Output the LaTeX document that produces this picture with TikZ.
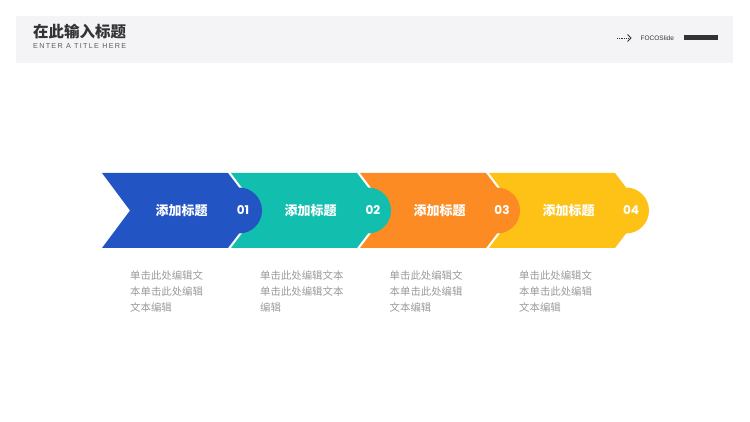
\documentclass[tikz,border=0pt]{standalone}
\usepackage{fontspec}
\setmainfont{Noto Sans CJK SC}
\newfontfamily\latinfont{Liberation Sans}[LetterSpace=18]
\newfontfamily\smallfont{Liberation Sans}
\newfontfamily\numfont{Poppins}
\usetikzlibrary{arrows.meta, positioning}

\definecolor{stepblue}{HTML}{2354C4}
\definecolor{stepteal}{HTML}{12BFAE}
\definecolor{steporange}{HTML}{FC8B23}
\definecolor{stepyellow}{HTML}{FDC215}
\definecolor{headbg}{HTML}{F4F4F6}
\definecolor{headtext}{HTML}{333333}
\definecolor{descgray}{HTML}{9A9A9A}

\begin{document}
\begin{tikzpicture}[
x=1pt, y=-1pt,
steptitle/.style={text=white, font=\bfseries\fontsize{13}{13}\selectfont},
stepnum/.style={text=white, font=\numfont\bfseries\fontsize{12}{12}\selectfont},
stepdesc/.style={anchor=north west, align=left, inner sep=0pt, text=descgray, font=\fontsize{10.4}{16}\selectfont}
]
\useasboundingbox (0,0) rectangle (750,422);

% header bar
\fill[headbg] (16,16) rectangle (733,63);
\node[anchor=west, inner sep=0pt, text=headtext, font=\bfseries\fontsize{15.5}{15.5}\selectfont] (title) at (33,32) {在此输入标题};
\node[anchor=west, inner sep=0pt, text=headtext!80, font=\latinfont\fontsize{7.2}{7.2}\selectfont] (subtitle) at (33,46.5) {ENTER A TITLE HERE};

\coordinate (dotstart) at (617,38);
\coordinate (dotend) at (628,38);
\draw[headtext, densely dotted, line width=0.8pt] (dotstart) -- (dotend);
\draw[headtext, line width=0.8pt] (627.5,34.5) -- (631,38) -- (627.5,41.5);
\node[anchor=west, inner sep=0pt, text=headtext, font=\smallfont\fontsize{6.5}{6.5}\selectfont] (brand) at (640.5,38) {FOCOSlide};
\fill[headtext] (684,35.5) rectangle (718,40.5);

% bands, drawn back to front
\fill[stepyellow] (489,173) -- (615,173) -- (626,187.5) arc[start angle=-90, end angle=90, radius=23] -- (615,248) -- (489,248) -- (517,210.5) -- cycle;
\fill[steporange] (360,173) -- (486,173) -- (497,187.5) arc[start angle=-90, end angle=90, radius=23] -- (486,248) -- (360,248) -- (388,210.5) -- cycle;
\fill[stepteal] (231,173) -- (357,173) -- (368,187.5) arc[start angle=-90, end angle=90, radius=23] -- (357,248) -- (231,248) -- (259,210.5) -- cycle;
\fill[stepblue] (102,173) -- (228,173) -- (239,187.5) arc[start angle=-90, end angle=90, radius=23] -- (228,248) -- (102,248) -- (130,210.5) -- cycle;

\node[steptitle] (title1) at (181.5,210.5) {添加标题};
\node[steptitle] (title2) at (310.5,210.5) {添加标题};
\node[steptitle] (title3) at (439.5,210.5) {添加标题};
\node[steptitle] (title4) at (568.5,210.5) {添加标题};

\node[stepnum] (num1) at (243,210.5) {01};
\node[stepnum] (num2) at (373,210.5) {02};
\node[stepnum] (num3) at (502,210.5) {03};
\node[stepnum] (num4) at (631,210.5) {04};

\node[stepdesc] (desc1) at (130,270) {单击此处编辑文\\本单击此处编辑\\文本编辑};
\node[stepdesc] (desc2) at (260,270) {单击此处编辑文本\\单击此处编辑文本\\编辑};
\node[stepdesc] (desc3) at (389.5,270) {单击此处编辑文\\本单击此处编辑\\文本编辑};
\node[stepdesc] (desc4) at (519,270) {单击此处编辑文\\本单击此处编辑\\文本编辑};

\end{tikzpicture}
\end{document}
